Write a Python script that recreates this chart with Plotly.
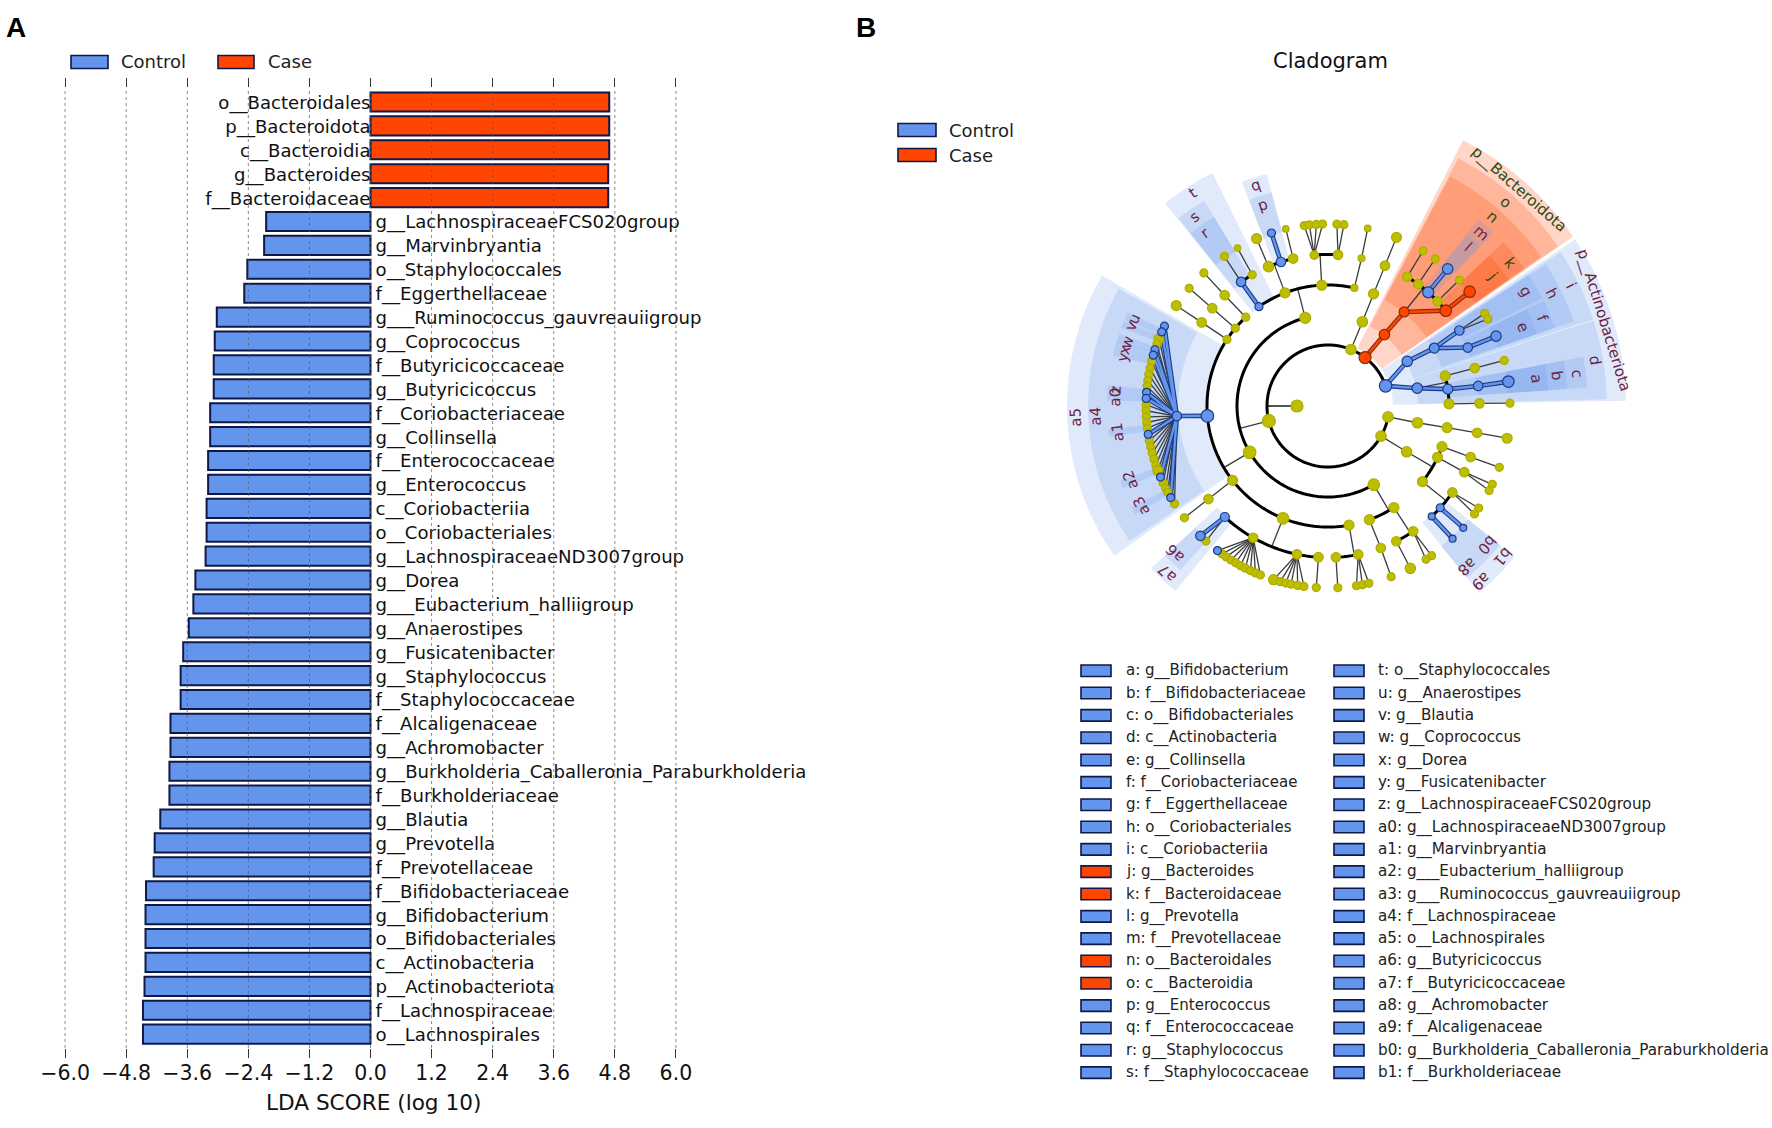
import numpy as np
import plotly.graph_objects as go

W, H = 1772, 1128

# ------------------------------------------------------------- panel A data
bar_names = [
    "o__Bacteroidales", "p__Bacteroidota", "c__Bacteroidia", "g__Bacteroides", "f__Bacteroidaceae",
    "g__LachnospiraceaeFCS020group", "g__Marvinbryantia", "o__Staphylococcales", "f__Eggerthellaceae",
    "g___Ruminococcus_gauvreauiigroup", "g__Coprococcus", "f__Butyricicoccaceae", "g__Butyricicoccus",
    "f__Coriobacteriaceae", "g__Collinsella", "f__Enterococcaceae", "g__Enterococcus", "c__Coriobacteriia",
    "o__Coriobacteriales", "g__LachnospiraceaeND3007group", "g__Dorea", "g___Eubacterium_halliigroup",
    "g__Anaerostipes", "g__Fusicatenibacter", "g__Staphylococcus", "f__Staphylococcaceae", "f__Alcaligenaceae",
    "g__Achromobacter", "g__Burkholderia_Caballeronia_Paraburkholderia", "f__Burkholderiaceae", "g__Blautia",
    "g__Prevotella", "f__Prevotellaceae", "f__Bifidobacteriaceae", "g__Bifidobacterium", "o__Bifidobacteriales",
    "c__Actinobacteria", "p__Actinobacteriota", "f__Lachnospiraceae", "o__Lachnospirales",
]
bar_scores = [
    4.69, 4.69, 4.69, 4.67, 4.67,
    -2.05, -2.09, -2.42, -2.48, -3.02, -3.06, -3.08, -3.08, -3.15, -3.15, -3.19, -3.19, -3.22, -3.22, -3.24,
    -3.44, -3.48, -3.57, -3.68, -3.73, -3.73, -3.93, -3.93, -3.95, -3.95, -4.13, -4.24, -4.26, -4.41, -4.42,
    -4.42, -4.42, -4.44, -4.47, -4.47,
]
tick_vals = [-6.0, -4.8, -3.6, -2.4, -1.2, 0.0, 1.2, 2.4, 3.6, 4.8, 6.0]
tick_text = ["\u22126.0", "\u22124.8", "\u22123.6", "\u22122.4", "\u22121.2", "0.0", "1.2", "2.4", "3.6", "4.8", "6.0"]
group_names = ["Control", "Case"]

# ------------------------------------------------------------- panel B legend
legend_col1 = [
    ("a: g__Bifidobacterium", "b"), ("b: f__Bifidobacteriaceae", "b"), ("c: o__Bifidobacteriales", "b"),
    ("d: c__Actinobacteria", "b"), ("e: g__Collinsella", "b"), ("f: f__Coriobacteriaceae", "b"),
    ("g: f__Eggerthellaceae", "b"), ("h: o__Coriobacteriales", "b"), ("i: c__Coriobacteriia", "b"),
    ("j: g__Bacteroides", "r"), ("k: f__Bacteroidaceae", "r"), ("l: g__Prevotella", "b"),
    ("m: f__Prevotellaceae", "b"), ("n: o__Bacteroidales", "r"), ("o: c__Bacteroidia", "r"),
    ("p: g__Enterococcus", "b"), ("q: f__Enterococcaceae", "b"), ("r: g__Staphylococcus", "b"),
    ("s: f__Staphylococcaceae", "b"),
]
legend_col2 = [
    "t: o__Staphylococcales", "u: g__Anaerostipes", "v: g__Blautia", "w: g__Coprococcus", "x: g__Dorea",
    "y: g__Fusicatenibacter", "z: g__LachnospiraceaeFCS020group", "a0: g__LachnospiraceaeND3007group",
    "a1: g__Marvinbryantia", "a2: g___Eubacterium_halliigroup", "a3: g___Ruminococcus_gauvreauiigroup",
    "a4: f__Lachnospiraceae", "a5: o__Lachnospirales", "a6: g__Butyricicoccus", "a7: f__Butyricicoccaceae",
    "a8: g__Achromobacter", "a9: f__Alcaligenaceae", "b0: g__Burkholderia_Caballeronia_Paraburkholderia",
    "b1: f__Burkholderiaceae",
]

# ------------------------------------------------------------- cladogram tree
# kind: y = not significant, b = Control, r = Case. Parents are found by angle.
phylum_theta = [19.3, 52.6, 67.9, 194.2, 349.7, 330.4]
phylum_kind = list("bryyyy")

class_theta = [29.4, 11.3, 51.7, 67.8, 104.5, 210.6, 300.2, 349.4, 329.8]
class_parent = [19.3, 19.3, 52.6, 67.9, 194.2, 194.2, 194.2, 349.7, 330.4]
class_kind = list("bbryyyyyy")

order_theta = [28.6, 8.0, 14.4, 1.0, 51.0, 67.9, 77.4, 93.0, 110.8, 124.8, 132.8, 140.0, 146.6, 184.7, 217.9,
               248.2, 280.0, 303.0, 290.0, 349.7, 334.9, 340.4, 321.3]
order_parent = [29.4, 11.3, 11.3, 11.3, 51.7, 67.8, 104.5, 104.5, 104.5, 104.5, 210.6, 210.6, 210.6, 210.6, 210.6,
                210.6, 210.6, 300.2, 300.2, 349.4, 329.8, 329.8, 329.8]
order_kind = list("bbyyryyyybyyybyyyyyyyyy")

family_theta = [29.9, 22.7, 7.6, 14.5, 1.0, 48.6, 39.0, 43.7, 53.5, 58.5, 67.9, 77.2, 95.2, 86.2, 113.1, 108.1, 103.3,
                125.0, 120.0, 133.0, 139.8, 146.5, 183.8, 217.9, 227.1, 240.4, 258.2, 266.4, 273.0, 281.5, 304.2,
                296.8, 290.4, 349.8, 334.1, 340.3, 325.2, 317.8, 313.2]
family_parent = [28.6, 28.6, 8.0, 14.4, 1.0, 51.0, 51.0, 51.0, 51.0, 51.0, 67.9, 77.4, 93.0, 93.0, 110.8, 110.8, 110.8,
                 124.8, 124.8, 132.8, 140.0, 146.6, 184.7, 217.9, 248.2, 248.2, 248.2, 248.2, 280.0, 280.0, 303.0,
                 303.0, 290.0, 349.7, 334.9, 340.4, 321.3, 321.3, 321.3]
family_kind = list("bbbyybryyyyyyyybybyyyybybyyyyyyyyyyyybb")

genus_theta = [7.7, 14.5, 0.9, 30.6, 28.6, 22.6, 48.9, 38.9, 43.8, 53.9, 58.5, 67.9, 77.4,
               97.5, 95.9, 93.7, 91.7, 87.2, 85.0, 113.1, 108.1, 103.4, 124.7, 119.8, 133.0, 139.7, 146.5,
               154.0, 156.0, 158.3, 160.1, 162.0, 163.8, 165.8, 168.0, 170.0, 172.0, 173.8, 175.7, 177.6, 179.6,
               181.5, 183.4, 185.2, 187.0, 189.0, 191.0, 193.0, 195.0, 197.0, 199.0, 200.8, 203.0, 205.0, 206.8,
               208.3, 210.2, 212.5, 217.9, 227.9, 225.5,
               232.6, 234.3, 236.0, 237.8, 239.5, 241.3, 243.0, 244.8, 246.5, 248.2,
               252.6, 254.8, 256.6, 258.3, 260.4, 262.4, 266.3, 273.1, 279.0, 280.9, 283.0,
               296.9, 304.7, 302.6, 290.3, 349.8, 334.5, 332.3, 340.3, 325.9, 323.6, 318.0, 313.2]
genus_parent = [7.6, 14.5, 1.0, 29.9, 29.9, 22.7, 48.6, 39.0, 43.7, 53.5, 58.5, 67.9, 77.2,
                95.2, 95.2, 95.2, 95.2, 86.2, 86.2, 113.1, 108.1, 103.3, 125.0, 120.0, 133.0, 139.8, 146.5] + \
               [183.8] * 31 + [217.9, 227.1, 227.1] + [240.4] * 10 + [258.2] * 6 + \
               [266.4, 273.0, 281.5, 281.5, 281.5, 296.8, 304.2, 304.2, 290.4, 349.8, 334.1, 334.1, 340.3,
                325.2, 325.2, 317.8, 313.2]
genus_kind = list("byyyybbryyyyy" "yyyyyyybyyyyy"
                  "ybbyybby" "yyyybbyyyyybyyyyyybyyybyy" "ybb"
                  "yyyyyyyyyy" "yyyyyy" "yyyyy" "yyyyyyyyy" "bb".replace(" ", ""))

# node sizes that differ from the size usual for the level, by level index and angle
size_default = [10.5, 10.5, 10, 9.5, 8]
size_special = {
    (0, 194.2): 13, (0, 19.3): 12.5, (0, 52.6): 12, (1, 210.6): 12.5, (1, 104.5): 11, (1, 300.2): 11.5,
    (2, 184.7): 12.5, (2, 248.2): 11.5, (2, 77.4): 7, (2, 124.8): 8, (2, 146.6): 8, (2, 132.8): 8, (2, 140.0): 8,
    (3, 48.6): 11, (3, 39.0): 11.5, (3, 113.1): 10.5, (3, 95.2): 8.5, (3, 120.0): 8, (3, 77.2): 7,
    (3, 227.1): 9, (3, 317.8): 8, (3, 313.2): 7,
    (4, 7.7): 11.5, (4, 48.9): 10.5, (4, 38.9): 11.5, (4, 22.6): 10.5, (4, 158.3): 10, (4, 200.8): 10,
    (4, 349.8): 10, (4, 252.6): 10, (4, 113.1): 10, (4, 67.9): 10, (4, 146.5): 10, (4, 296.9): 10.5,
    (4, 225.5): 9.5, (4, 77.4): 6.5, (4, 103.4): 6.5, (4, 119.8): 6.5, (4, 318.0): 7, (4, 313.2): 7,
}

# clade shading: centre angle, angular width, inner radius, outer radius, kind
wedge_theta = [48.85, 48.5, 48.5, 39.0, 48.7, 48.7, 39.0,
               17.5, 25.8, 9.6, 26.0, 7.5, 30.0, 22.5, 7.5, 22.5, 7.5,
               122.6, 124.8, 124.8, 107.9, 107.9,
               182.5, 182.5, 156.0, 158.3, 162.0, 163.8, 165.8, 175.7, 177.6, 187.0, 200.8, 208.3,
               226.5, 225.3, -48.0, -48.0, -42.0, -42.0]
wedge_width = [28.4, 27.5, 27.0, 8.0, 5.0, 4.2, 8.0,
               33.0, 15.4, 16.4, 14.0, 6.8, 6.5, 7.0, 6.8, 7.0, 6.8,
               12.4, 7.5, 7.5, 6.2, 6.2,
               65.0, 63.5, 2.0, 2.0, 2.0, 2.0, 2.0, 2.0, 2.0, 2.0, 2.0, 2.0,
               8.0, 5.5, 6.0, 6.0, 6.0, 6.0]
wedge_inner = [65, 90, 120, 150, 150, 180, 180,
               65, 90, 90, 120, 120, 150, 150, 150, 180, 180,
               120, 150, 180, 150, 180,
               120, 150, 180, 180, 180, 180, 180, 180, 180, 180, 180, 180,
               150, 180, 150, 180, 150, 180]
wedge_outer = [298, 280, 260, 240, 240, 221, 221,
               298, 279, 279, 260, 260, 240, 240, 240, 221, 221,
               260, 240, 221, 240, 221,
               261, 240, 221, 221, 221, 221, 221, 221, 221, 221, 221, 221,
               240, 221, 240, 221, 240, 221]
wedge_kind = list("rrrrbbr" "bbbbbbbbbbb" "bbbbb" "bbbbbbbbbbbb" "bbbbbb".replace(" ", ""))

# clade labels on the cladogram: text, angle, radius
label_text = ["p__Bacteroidota", "o", "n", "m", "l", "k", "j",
              "p__Actinobacteriota", "i", "d", "h", "c", "g", "f", "e", "b", "a",
              "t", "s", "r", "q", "p",
              "a5", "a4", "a1", "a0", "z", "a2", "a3", "u", "v", "w", "x", "y",
              "a6", "a7", "a8", "a9", "b0", "b1"]
label_theta = [48.6, 49, 48.9, 48.5, 48.6, 38.2, 38.3,
               17.3, 26.5, 9.6, 26.6, 7.5, 30, 22.3, 22, 7.5, 7.6,
               122.4, 125.3, 125.4, 108, 108,
               182.6, 182.6, 187, 177.6, 175.7, 200.5, 208, 155.8, 157.8, 162.5, 164.5, 166.5,
               224, 226, -49.2, -49, -41.2, -40.7]
label_radius = [289, 270, 251, 231, 212, 231.7, 210,
                289, 271, 271, 250.6, 250.8, 229, 231, 210, 231, 210,
                252, 231, 212, 232, 211,
                252, 233, 212, 212.8, 213, 211, 212, 213, 213, 211, 211, 211,
                212.6, 232, 212, 232.8, 211, 231]

# ------------------------------------------------------------- styling
BLUE, RED, YELLOW = "#6495ED", "#FF4500", "#BEBE00"
EDGE_DARK = "#101848"
FONT = "DejaVu Sans"
LEVEL_R = [61, 91, 121, 151.5, 182]
cx, cy = 1328, 406   # cladogram centre on the page
RMAX = 300


def px(x):
    return x / W


def py(y):
    return 1 - y / H


def polar_to_paper(theta, r):
    t = np.deg2rad(theta)
    return px(cx + r * np.cos(t)), py(cy - r * np.sin(t))


fig = go.Figure()

# ------------------------------------------------------------- bars
rows = list(range(len(bar_names)))
bar_colors = [RED if v > 0 else BLUE for v in bar_scores]
fig.add_trace(go.Bar(x=bar_scores, y=rows, orientation="h", width=0.8, customdata=bar_names,
                     marker=dict(color=bar_colors, line=dict(color=EDGE_DARK, width=2)),
                     showlegend=False, hovertemplate="%{customdata}: %{x}<extra></extra>"))
TEXT_DROP = 0.1
pos_rows = [i for i in rows if bar_scores[i] > 0]
neg_rows = [i for i in rows if bar_scores[i] < 0]
fig.add_trace(go.Scatter(x=[0.0] * len(pos_rows), y=[i + TEXT_DROP for i in pos_rows],
                         text=[bar_names[i] for i in pos_rows], mode="text", cliponaxis=False,
                         textposition="middle left", textfont=dict(family=FONT, size=18.1, color="#111"),
                         showlegend=False, hoverinfo="skip"))
fig.add_trace(go.Scatter(x=[0.1] * len(neg_rows), y=[i + TEXT_DROP for i in neg_rows],
                         text=[bar_names[i] for i in neg_rows], mode="text", cliponaxis=False,
                         textposition="middle right", textfont=dict(family=FONT, size=18.1, color="#111"),
                         showlegend=False, hoverinfo="skip"))

# ------------------------------------------------------------- cladogram
wedge_fill = {"b": "rgba(100,149,237,0.20)", "r": "rgba(255,69,0,0.22)"}
fig.add_trace(go.Barpolar(
    theta=wedge_theta, width=wedge_width, base=wedge_inner,
    r=[o - i for o, i in zip(wedge_outer, wedge_inner)],
    marker=dict(color=[wedge_fill[k] for k in wedge_kind], line=dict(width=0)),
    subplot="polar", showlegend=False, hoverinfo="skip"))

levels = [
    (phylum_theta, [180.0] * len(phylum_theta), phylum_kind),
    (class_theta, class_parent, class_kind),
    (order_theta, order_parent, order_kind),
    (family_theta, family_parent, family_kind),
    (genus_theta, genus_parent, genus_kind),
]

thin_t, thin_r, ring_t, ring_r = [], [], [], []
col_t = {"b": [], "r": []}
col_r = {"b": [], "r": []}


def add(seg_t, seg_r, tl, rl):
    tl.extend(seg_t + [None])
    rl.extend(seg_r + [None])


for li, (thetas, parents, kinds) in enumerate(levels):
    rc = LEVEL_R[li]
    rp = LEVEL_R[li - 1] if li > 0 else 31
    pkind = {} if li == 0 else dict(zip(levels[li - 1][0], levels[li - 1][2]))
    for p in sorted(set(parents)):
        kids = [(t, k) for t, q, k in zip(thetas, parents, kinds) if q == p]
        ts = [t for t, _ in kids]
        pk = pkind.get(p, "y")
        same = pk != "y" and all(k == pk for _, k in kids)
        if len(kids) > 1 and li < 4:
            if not same:
                lo, hi = min(ts + [p]), max(ts + [p])
                arc = list(np.append(np.arange(lo, hi, 1.5), hi))
                add(arc, [rc] * len(arc), ring_t, ring_r)
                add([p, p], [rp, rc], thin_t, thin_r)
        else:
            for t, k in kids:
                if not (k == pk and k != "y"):
                    add([p, t], [rp, rc], thin_t, thin_r)
        for t, k in kids:
            if k != "y" and k == pk:
                add([p, t], [rp, rc], col_t[k], col_r[k])

add([180, 180], [31, 61], thin_t, thin_r)

fig.add_trace(go.Scatterpolar(theta=thin_t, r=thin_r, mode="lines", line=dict(color="#3c3c3c", width=1.3),
                              subplot="polar", showlegend=False, hoverinfo="skip"))
fig.add_trace(go.Scatterpolar(theta=ring_t, r=ring_r, mode="lines", line=dict(color="#000", width=3),
                              subplot="polar", showlegend=False, hoverinfo="skip"))
for k, color, under in (("b", BLUE, "#1c3a86"), ("r", RED, "#8a2a08")):
    fig.add_trace(go.Scatterpolar(theta=col_t[k], r=col_r[k], mode="lines", line=dict(color=under, width=4.6),
                                  subplot="polar", showlegend=False, hoverinfo="skip"))
    fig.add_trace(go.Scatterpolar(theta=col_t[k], r=col_r[k], mode="lines", line=dict(color=color, width=2.4),
                                  subplot="polar", showlegend=False, hoverinfo="skip"))

node_t = [180.0]
node_r = [31]
node_s = [12]
node_k = ["y"]
for li, (thetas, parents, kinds) in enumerate(levels):
    node_t += list(thetas)
    node_r += [LEVEL_R[li]] * len(thetas)
    node_s += [size_special.get((li, t), size_default[li]) for t in thetas]
    node_k += list(kinds)
fill = {"y": YELLOW, "b": BLUE, "r": RED}
edge = {"y": "#ADAD00", "b": "#1c3a86", "r": "#8a2a08"}
order_idx = sorted(range(len(node_t)), key=lambda i: node_k[i] != "y")
fig.add_trace(go.Scatterpolar(
    theta=[node_t[i] for i in order_idx], r=[node_r[i] for i in order_idx], mode="markers",
    marker=dict(size=[node_s[i] for i in order_idx], color=[fill[node_k[i]] for i in order_idx],
                line=dict(color=[edge[node_k[i]] for i in order_idx], width=1.2), opacity=1),
    subplot="polar", showlegend=False, hoverinfo="skip"))

annotations = []
shapes = []


def text(x, y, s, size=15, anchor="left", color="#111", family=FONT, **kw):
    annotations.append(dict(x=px(x), y=py(y), xref="paper", yref="paper", text=s, showarrow=False,
                            xanchor=anchor, yanchor="middle", font=dict(family=family, size=size, color=color), **kw))


def swatch(x0, x1, yc, h, color):
    shapes.append(dict(type="rect", xref="paper", yref="paper", x0=px(x0), x1=px(x1),
                       y0=py(yc - h / 2), y1=py(yc + h / 2), fillcolor=color,
                       line=dict(color=EDGE_DARK, width=1.6)))


for s, t, r in zip(label_text, label_theta, label_radius):
    x, y = polar_to_paper(t, r)
    col = "#2c4a14" if s in ("p__Bacteroidota", "o", "n", "k", "j") else "#6e1f45"
    annotations.append(dict(x=x, y=y, xref="paper", yref="paper", text=s, showarrow=False, textangle=90 - t,
                            xanchor="center", yanchor="middle", font=dict(family=FONT, size=15, color=col)))

# grid on top of the bars
for v in tick_vals:
    shapes.append(dict(type="line", xref="x", yref="paper", x0=v, x1=v, y0=py(1048), y1=py(88),
                       line=dict(color="rgba(90,90,90,0.7)", width=1, dash="dot"), layer="above"))

# panel letters, titles
text(4, 28, "<b>A</b>", size=28, family="Liberation Sans", color="#000")
text(854, 28, "<b>B</b>", size=28, family="Liberation Sans", color="#000")
text(1330, 61, "Cladogram", size=21, anchor="center")
text(373, 1102, "LDA SCORE (log 10)", size=21.6, anchor="center")

# panel A legend
swatch(71, 108, 62, 13, BLUE)
text(119, 62, group_names[0], size=18, color="#222")
swatch(218, 254, 62, 13, RED)
text(266, 62, group_names[1], size=18, color="#222")
# panel B legend
swatch(898, 936, 130, 13, BLUE)
text(947, 130, group_names[0], size=18, color="#222")
swatch(898, 936, 155, 13, RED)
text(947, 155, group_names[1], size=18, color="#222")

# clade key
ROW0, PITCH = 670.7, 22.33
for i, (s, k) in enumerate(legend_col1):
    yc = ROW0 + i * PITCH
    swatch(1081, 1111, yc, 11.5, BLUE if k == "b" else RED)
    text(1124, yc, s, size=15, color="#222")
for i, s in enumerate(legend_col2):
    yc = ROW0 + i * PITCH
    swatch(1334, 1364, yc, 11.5, BLUE)
    text(1376, yc, s, size=15.2, color="#222")

fig.update_layout(
    width=W, height=H, margin=dict(l=0, r=0, t=0, b=0, autoexpand=False), paper_bgcolor="white", plot_bgcolor="white",
    bargap=0.2, showlegend=False, annotations=annotations, shapes=shapes,
    xaxis=dict(domain=[px(60), px(681)], range=[-6.1, 6.1], tickmode="array", tickvals=tick_vals, ticktext=tick_text,
               ticks="outside", ticklen=9, tickwidth=1, tickcolor="#333", mirror="ticks", showline=False,
               showgrid=False, zeroline=False, tickfont=dict(family=FONT, size=20.5, color="#111"), anchor="y",
               ticklabelstandoff=-3),
    yaxis=dict(domain=[py(1048), py(88)], range=[39.58, -0.586], visible=False, anchor="x"),
    polar=dict(domain=dict(x=[px(cx - RMAX), px(cx + RMAX)], y=[py(cy + RMAX), py(cy - RMAX)]),
               bgcolor="rgba(0,0,0,0)", barmode="overlay",
               radialaxis=dict(range=[0, RMAX], visible=False),
               angularaxis=dict(visible=False, direction="counterclockwise", rotation=0)),
)

fig.write_html("out.html", post_script="document.body.style.margin='0';", config={"displayModeBar": False})
